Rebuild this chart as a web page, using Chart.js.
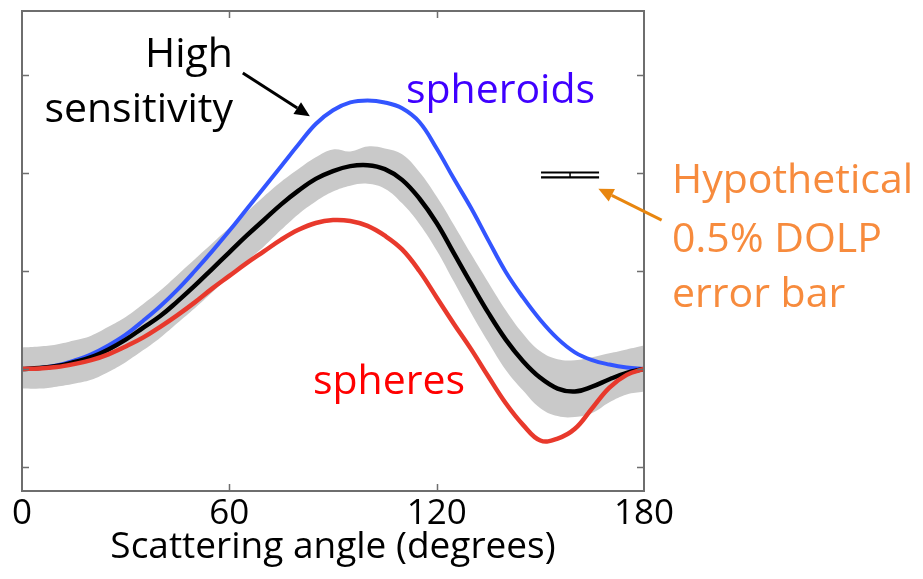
<!DOCTYPE html>
<html>
<head>
<meta charset="utf-8">
<script src="https://cdn.jsdelivr.net/npm/chart.js@4/dist/chart.umd.min.js"></script>
<style>
  html, body { margin: 0; padding: 0; background: #ffffff; }
  #wrap { width: 923px; height: 579px; }
</style>
</head>
<body>
<div id="wrap"><canvas id="c" width="923" height="579"></canvas></div>
<script>
// Scattering angle (degrees)
const angles    = [0, 5, 10, 15, 20, 25, 30, 35, 40, 45, 50, 55, 60, 65, 70, 75, 80, 85, 90,
                   95, 100, 105, 110, 115, 120, 125, 130, 135, 140, 145, 150, 155, 160, 165, 170, 175, 180];
// Polarization curves (DOLP, %)
const spheroids = [0, 0.1, 0.35, 0.85, 1.5, 2.4, 3.5, 4.9, 6.4, 8.1, 10.0, 12.0, 14.1, 16.3, 18.5, 20.7, 22.9, 25.0, 26.4,
                   27.2, 27.4, 27.2, 26.6, 25.2, 22.5, 19.4, 16.4, 13.1, 9.9, 7.3, 5.0, 3.1, 1.7, 0.9, 0.45, 0.15, 0];
const meanDolp  = [0, 0.1, 0.3, 0.7, 1.2, 2.0, 3.0, 4.2, 5.4, 6.9, 8.5, 10.2, 11.9, 13.6, 15.2, 16.8, 18.2, 19.4, 20.2,
                   20.7, 20.8, 20.4, 19.3, 17.4, 14.9, 11.8, 8.7, 5.7, 3.0, 0.8, -0.9, -2.0, -2.3, -1.8, -1.05, -0.4, 0];
const spheres   = [0, 0.05, 0.2, 0.5, 0.9, 1.5, 2.3, 3.2, 4.3, 5.5, 6.8, 8.2, 9.5, 10.8, 12.0, 13.2, 14.2, 14.9, 15.2,
                   15.1, 14.6, 13.6, 12.2, 10.0, 7.3, 4.6, 2.0, -0.8, -3.5, -5.7, -7.3, -7.1, -6.1, -4.0, -1.9, -0.6, 0];
// Spread around the mean curve
const bandHigh  = [2.2, 2.3, 2.5, 2.9, 3.4, 4.3, 5.3, 6.6, 8.0, 9.6, 11.2, 12.8, 14.4, 16.0, 17.6, 19.1, 20.4, 21.6, 22.4,
                   22.2, 22.7, 22.5, 21.9, 20.1, 17.6, 14.7, 11.7, 8.8, 6.0, 3.6, 1.8, 1.0, 0.9, 1.2, 1.6, 2.0, 2.4];
const bandLow   = [-2.0, -2.0, -1.8, -1.5, -1.1, -0.3, 0.7, 1.9, 3.2, 4.7, 6.2, 7.8, 9.4, 11.0, 12.5, 14.2, 15.8, 17.1, 18.1,
                   18.7, 18.9, 18.4, 16.9, 14.8, 12.1, 8.9, 5.7, 2.7, -0.1, -2.2, -4.0, -4.8, -4.9, -4.5, -3.4, -2.6, -2.3];

const xTicks = [0, 60, 120, 180];
const yTicks = [-10, 0, 10, 20, 30];

// Hypothetical 0.5% DOLP error bar
const errAngle = 158.6;
const errHalfSpan = 8.4;
const errValue = 19.8;
const errSize = 0.5;

const FONT = '"Open Sans", "DejaVu Sans", sans-serif';

const pts = arr => angles.map((a, i) => ({ x: a, y: arr[i] }));

// Notes, placed in data units: [text, angle, value, align, colour]
const notes = [
  ['High', 61.05, 30.8, 'right', '#000000'],
  ['sensitivity', 61.05, 25.2, 'right', '#000000'],
  ['spheroids', 111.1, 27.1, 'left', '#3f00ff'],
  ['spheres', 84.2, -2.55, 'left', '#ff0000'],
  ['Hypothetical', 188.1, 17.96, 'left', '#f78b3d'],
  ['0.5% DOLP', 188.1, 11.94, 'left', '#f78b3d'],
  ['error bar', 188.1, 6.33, 'left', '#f78b3d']
];
// Arrows: [fromAngle, fromValue, toAngle, toValue, colour]
const arrows = [
  [63.9, 30.2, 83.3, 25.8, '#000000'],
  [185.1, 15.2, 166.8, 18.4, '#e8860f']
];

function drawArrow(ctx, x1, y1, x2, y2, color) {
  const ang = Math.atan2(y2 - y1, x2 - x1);
  const head = 15, half = 7;
  const bx = x2 - head * Math.cos(ang), by = y2 - head * Math.sin(ang);
  ctx.save();
  ctx.strokeStyle = color;
  ctx.fillStyle = color;
  ctx.lineWidth = 3;
  ctx.beginPath();
  ctx.moveTo(x1, y1);
  ctx.lineTo(bx, by);
  ctx.stroke();
  ctx.beginPath();
  ctx.moveTo(x2, y2);
  ctx.lineTo(bx + half * Math.sin(ang), by - half * Math.cos(ang));
  ctx.lineTo(bx - half * Math.sin(ang), by + half * Math.cos(ang));
  ctx.closePath();
  ctx.fill();
  ctx.restore();
}

const framePlugin = {
  id: 'frame',
  afterDraw(chart) {
    const { ctx, chartArea: a, scales } = chart;
    const xs = scales.x, ys = scales.y;
    ctx.save();
    ctx.strokeStyle = '#6e6e6e';
    ctx.lineWidth = 2;
    ctx.strokeRect(a.left, a.top, a.right - a.left, a.bottom - a.top);
    ctx.lineWidth = 1.5;
    const tl = 7;
    ctx.beginPath();
    xTicks.forEach(v => {
      const px = Math.round(xs.getPixelForValue(v)) + 0.5;
      if (v === xs.min || v === xs.max) return;
      ctx.moveTo(px, a.bottom); ctx.lineTo(px, a.bottom - tl);
      ctx.moveTo(px, a.top); ctx.lineTo(px, a.top + tl);
    });
    yTicks.forEach(v => {
      const py = Math.round(ys.getPixelForValue(v)) + 0.5;
      ctx.moveTo(a.left, py); ctx.lineTo(a.left + tl, py);
      ctx.moveTo(a.right, py); ctx.lineTo(a.right - tl, py);
    });
    ctx.stroke();

    ctx.font = '41px ' + FONT;
    ctx.textBaseline = 'alphabetic';
    notes.forEach(([t, ax, vy, align, col]) => {
      ctx.fillStyle = col;
      ctx.textAlign = align;
      ctx.fillText(t, xs.getPixelForValue(ax), ys.getPixelForValue(vy));
    });
    arrows.forEach(([a1, v1, a2, v2, col]) => {
      drawArrow(ctx, xs.getPixelForValue(a1), ys.getPixelForValue(v1),
                xs.getPixelForValue(a2), ys.getPixelForValue(v2), col);
    });
    ctx.restore();
  }
};

const lineStyle = { pointRadius: 0, tension: 0.4, fill: false };

new Chart(document.getElementById('c'), {
  type: 'line',
  data: {
    datasets: [
      { label: 'bandLow', data: pts(bandLow), borderWidth: 0, borderColor: 'rgba(0,0,0,0)', order: 6, ...lineStyle },
      { label: 'bandHigh', data: pts(bandHigh), borderWidth: 0, borderColor: 'rgba(0,0,0,0)', order: 5, ...lineStyle,
        fill: { target: 0 }, backgroundColor: '#c9c9c9' },
      { label: 'spheroids', data: pts(spheroids), borderColor: '#3355ff', borderWidth: 4, order: 4, ...lineStyle },
      { label: 'mean', data: pts(meanDolp), borderColor: '#000000', borderWidth: 4.5, order: 3, ...lineStyle },
      { label: 'spheres', data: pts(spheres), borderColor: '#e8392c', borderWidth: 4.5, order: 2, ...lineStyle },
      { label: 'errTop', order: 1, pointRadius: 0, tension: 0, borderColor: '#000', borderWidth: 2.2,
        data: [{ x: errAngle - errHalfSpan, y: errValue + errSize / 2 }, { x: errAngle + errHalfSpan, y: errValue + errSize / 2 }] },
      { label: 'errBottom', order: 1, pointRadius: 0, tension: 0, borderColor: '#000', borderWidth: 2.2,
        data: [{ x: errAngle - errHalfSpan, y: errValue - errSize / 2 }, { x: errAngle + errHalfSpan, y: errValue - errSize / 2 }] },
      { label: 'errMid', order: 1, pointRadius: 0, tension: 0, borderColor: '#000', borderWidth: 1.5,
        data: [{ x: errAngle, y: errValue - errSize / 2 }, { x: errAngle, y: errValue + errSize / 2 }] }
    ]
  },
  options: {
    responsive: false,
    animation: false,
    devicePixelRatio: 1,
    layout: { padding: { left: 22, right: 279, top: 11, bottom: 0 } },
    plugins: { legend: { display: false }, tooltip: { enabled: false } },
    scales: {
      x: {
        type: 'linear', min: 0, max: 180,
        afterBuildTicks: s => { s.ticks = xTicks.map(v => ({ value: v })); },
        afterFit: s => { s.height = 88; },
        grid: { display: false, drawTicks: false },
        border: { display: false },
        ticks: { color: '#000', font: { family: FONT, size: 35 }, padding: 2, maxRotation: 0, autoSkip: false },
        title: { display: true, text: 'Scattering angle (degrees)', color: '#000',
                 font: { family: FONT, size: 37 }, padding: { top: 0, bottom: 9 } }
      },
      y: { type: 'linear', min: -12.45, max: 36.53, display: false }
    }
  },
  plugins: [framePlugin]
});
</script>
</body>
</html>
